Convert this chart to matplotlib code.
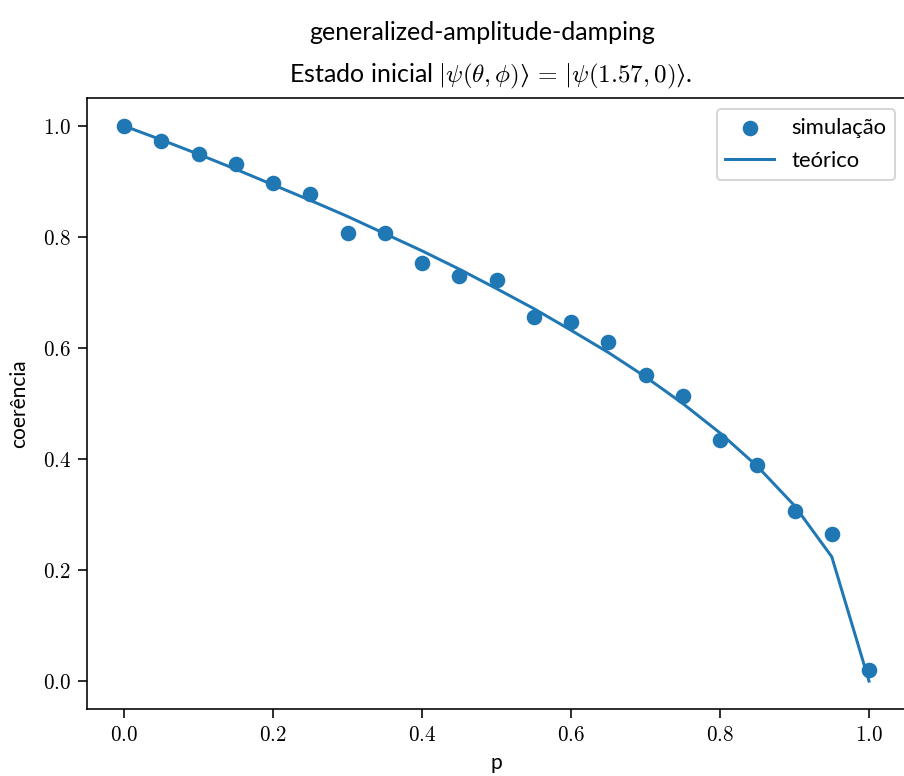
import matplotlib
matplotlib.use('Agg')
from matplotlib import pyplot as plt
from matplotlib.ticker import FormatStrFormatter

plt.rcParams['font.family'] = ['Lato', 'DejaVu Sans']
plt.rcParams['mathtext.fontset'] = 'cm'

# Data
p = [0.0, 0.05, 0.1, 0.15, 0.2, 0.25, 0.3, 0.35, 0.4, 0.45, 0.5,
     0.55, 0.6, 0.65, 0.7, 0.75, 0.8, 0.85, 0.9, 0.95, 1.0]
simulacao = [0.999, 0.972, 0.949, 0.931, 0.898, 0.877, 0.808, 0.808, 0.753, 0.730, 0.722,
             0.655, 0.646, 0.611, 0.551, 0.513, 0.434, 0.390, 0.306, 0.265, 0.020]
teorico = [1.0, 0.975, 0.949, 0.922, 0.894, 0.866, 0.837, 0.806, 0.775, 0.742, 0.707,
           0.671, 0.632, 0.592, 0.548, 0.500, 0.447, 0.387, 0.316, 0.224, 0.0]

fig = plt.figure(figsize=(904 / 144, 776 / 144), dpi=144)
ax = fig.add_axes([0.096, 0.0865, 0.9065, 0.787])

ax.scatter(p, simulacao, s=46, label='simulação')
ax.plot(p, teorico, label='teórico')

fig.suptitle('generalized-amplitude-damping', fontsize=12.5, x=0.533, y=0.973)
ax.set_title('Estado inicial $|\\psi(\\theta, \\phi)\u27e9\\,=\\,|\\psi(1.57, 0)\u27e9$.',
             fontsize=12.5, x=0.493, pad=8)
ax.set_xlabel('p', fontsize=10.5, labelpad=4)
ax.set_ylabel('coerência', fontsize=10.5, labelpad=7)

ax.xaxis.set_major_formatter(FormatStrFormatter(r'$%.1f$'))
ax.yaxis.set_major_formatter(FormatStrFormatter(r'$%.1f$'))
ax.tick_params(axis='both', which='major', labelsize=10.5, length=4.4)

ax.legend(loc='upper right', fontsize=11, labelspacing=0.6, handlelength=2.2)

fig.savefig('out.png', dpi=144)
